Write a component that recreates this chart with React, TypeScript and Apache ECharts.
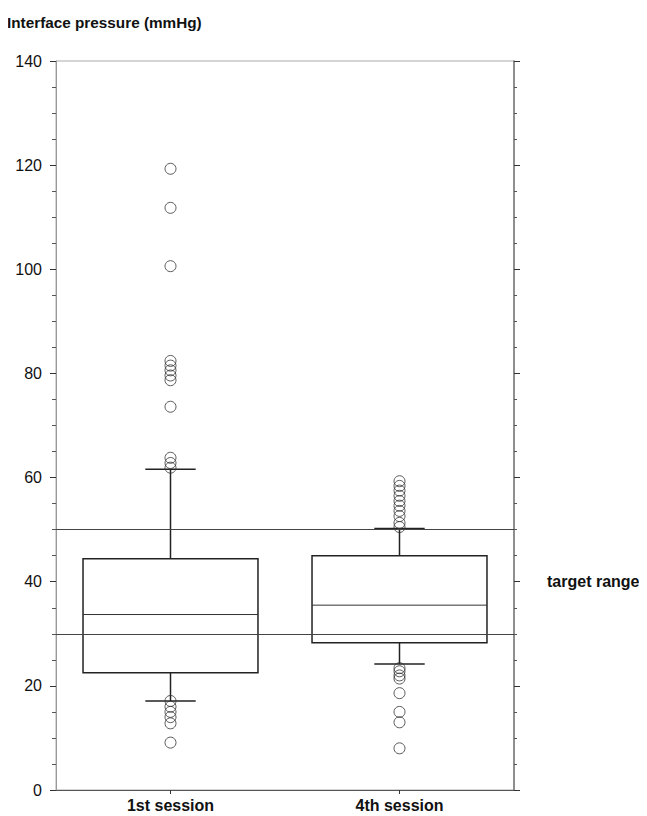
import React, { useEffect, useRef } from "react";
import * as echarts from "echarts";

const categories = ["1st session", "4th session"];
// [lower whisker, Q1, median, Q3, upper whisker]
const boxSession1 = [17.1, 22.5, 33.7, 44.4, 61.6];
const boxSession4 = [24.2, 28.3, 35.5, 45.0, 50.2];
const outliersSession1 = [119.3, 111.8, 100.6, 82.4, 81.5, 80.6, 79.6, 78.7, 73.6, 63.8, 62.8, 61.9, 17.1, 16.0, 15.0, 14.0, 12.8, 9.1];
const outliersSession4 = [59.3, 58.4, 57.5, 56.5, 55.5, 54.6, 53.6, 52.6, 51.3, 50.5, 23.4, 22.8, 22.0, 21.4, 18.6, 15.0, 13.0, 8.0];
const targetRange = [30, 50];
const yTicks = { min: 0, max: 140, interval: 20 };

const FONT = "'Liberation Sans', Arial, Helvetica, sans-serif";

export default function App() {
  const ref = useRef<HTMLDivElement>(null);
  useEffect(() => {
    if (!ref.current) return;
    const chart = echarts.init(ref.current, null, { renderer: "svg" });
    const boxData = [boxSession1, boxSession4].map((b, i) => [i, ...b]);
    const outlierData = [
      ...outliersSession1.map((v) => [0, v]),
      ...outliersSession4.map((v) => [1, v]),
    ];
    const stroke = "#222";
    chart.setOption({
      animation: false,
      backgroundColor: "#fff",
      textStyle: { fontFamily: FONT },
      title: {
        text: "Interface pressure (mmHg)",
        left: 2,
        top: 10,
        textStyle: { fontSize: 15.3, fontWeight: "bold", color: "#111", fontFamily: FONT },
      },
      grid: { left: 56, right: 133, top: 61, bottom: 26, show: true, borderColor: "#aaa", borderWidth: 1 },
      xAxis: {
        type: "category",
        data: categories,
        boundaryGap: true,
        axisLine: { lineStyle: { color: "#555", width: 1 } },
        axisTick: { show: true, alignWithLabel: true, length: 4, lineStyle: { color: "#333" } },
        axisLabel: { fontSize: 16, fontWeight: "bold", color: "#111", margin: 7, fontFamily: FONT },
        splitLine: { show: false },
      },
      yAxis: [
        {
          type: "value",
          min: yTicks.min,
          max: yTicks.max,
          interval: yTicks.interval,
          axisLine: { show: true, lineStyle: { color: "#999", width: 1 } },
          axisTick: { show: true, length: 6, lineStyle: { color: "#333" } },
          minorTick: { show: true, splitNumber: 4, length: 4, lineStyle: { color: "#555" } },
          axisLabel: { fontSize: 16, color: "#111", margin: 14, fontFamily: FONT },
          splitLine: { show: false },
        },
        {
          type: "value",
          position: "right",
          min: yTicks.min,
          max: yTicks.max,
          interval: yTicks.interval,
          axisLine: { show: true, lineStyle: { color: "#777", width: 1.5 } },
          axisTick: { show: true, length: 6, lineStyle: { color: "#333" } },
          minorTick: { show: true, splitNumber: 4, length: 3, lineStyle: { color: "#555" } },
          axisLabel: { show: false },
          splitLine: { show: false },
        },
      ],
      series: [
        {
          type: "custom",
          data: boxData,
          encode: { x: 0, y: [1, 2, 3, 4, 5] },
          z: 3,
          renderItem: (params: any, api: any) => {
            const c = api.value(0);
            const lo = api.coord([c, api.value(1)]);
            const q1 = api.coord([c, api.value(2)]);
            const med = api.coord([c, api.value(3)]);
            const q3 = api.coord([c, api.value(4)]);
            const hi = api.coord([c, api.value(5)]);
            const band = api.size([1, 0])[0];
            const bw = band * 0.764;
            const cw = band * 0.22;
            const cx = med[0];
            const ls = { stroke, lineWidth: 1.5, fill: "none" };
            return {
              type: "group",
              children: [
                { type: "line", shape: { x1: cx, y1: hi[1], x2: cx, y2: q3[1] }, style: ls },
                { type: "line", shape: { x1: cx, y1: q1[1], x2: cx, y2: lo[1] }, style: ls },
                { type: "line", shape: { x1: cx - cw / 2, y1: hi[1], x2: cx + cw / 2, y2: hi[1] }, style: ls },
                { type: "line", shape: { x1: cx - cw / 2, y1: lo[1], x2: cx + cw / 2, y2: lo[1] }, style: ls },
                { type: "rect", shape: { x: cx - bw / 2, y: q3[1], width: bw, height: q1[1] - q3[1] }, style: ls },
                { type: "line", shape: { x1: cx - bw / 2, y1: med[1], x2: cx + bw / 2, y2: med[1] }, style: { stroke: "#333", lineWidth: 1 } },
              ],
            };
          },
        },
        {
          type: "scatter",
          data: outlierData,
          symbol: "circle",
          symbolSize: 11,
          z: 4,
          itemStyle: { color: "transparent", borderColor: "#333", borderWidth: 1 },
          markLine: {
            silent: true,
            symbol: "none",
            label: { show: false },
            lineStyle: { color: "#444", width: 1, type: "solid" },
            data: targetRange.map((v) => ({ yAxis: v })),
          },
          markArea: {
            silent: true,
            itemStyle: { color: "transparent" },
            label: {
              show: true,
              position: "right",
              distance: 33,
              fontSize: 16,
              fontWeight: "bold",
              color: "#111",
              fontFamily: FONT,
            },
            data: [[{ yAxis: targetRange[0], name: "target range" }, { yAxis: targetRange[1] }]],
          },
        },
      ],
    });
    return () => chart.dispose();
  }, []);
  return <div ref={ref} style={{ width: 647, height: 816, marginTop: -8, marginLeft: -8 }} />;
}
